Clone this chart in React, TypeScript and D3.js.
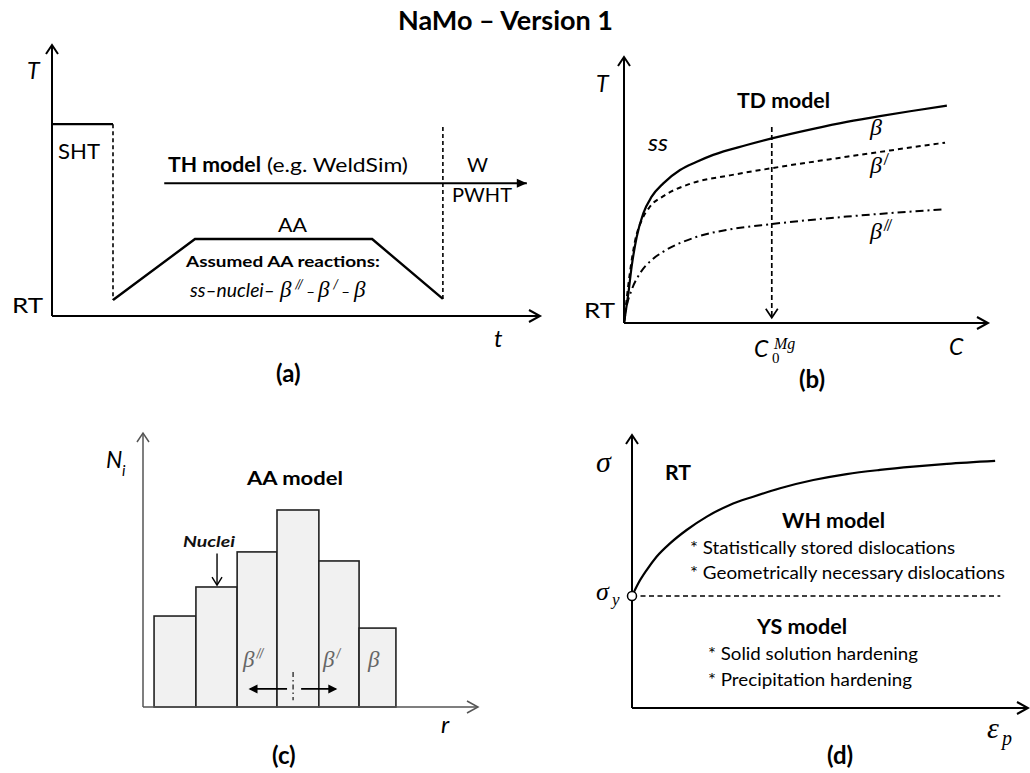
import React from 'react';
import * as d3 from 'd3';

// ---------- DATA ----------
// Panel (a): thermal history T(t), schematic units 0..100
const shtSegment = [{ t: 0, T: 70.8 }, { t: 12.5, T: 70.8 }];
const quenchSegment = [{ t: 12.5, T: 70.8 }, { t: 12.5, T: 5.9 }];
const agingSegment = [
  { t: 12.5, T: 5.9 },
  { t: 29.3, T: 28.4 },
  { t: 65.6, T: 28.4 },
  { t: 80.1, T: 6.3 },
];
const weldSegment = [{ t: 80.1, T: 6.3 }, { t: 80.1, T: 70.5 }];
const thArrow = [{ t: 23, T: 49 }, { t: 97.3, T: 49 }];

// Panel (b): solvus curves T(C)
const solvusBeta = [
  [0, 0], [1.2, 11.2], [2.1, 21.2], [3.5, 32.4], [5.3, 41.2], [7.6, 47.5],
  [10.8, 52.5], [15.4, 57.5], [20, 60.6], [24.5, 63.2], [33.7, 66.9],
  [40.6, 69.4], [52, 73], [61.2, 75.6], [70.3, 77.8], [79.5, 79.8], [88.7, 81.7],
];
const solvusBetaP = [
  [0, 0], [0.7, 8.6], [1.6, 18.7], [3.0, 30.6], [4.9, 38.7], [7.1, 43.7],
  [10.8, 47.7], [18.1, 52.3], [29.1, 55.5], [40.6, 58.2], [61.2, 62.5], [88.2, 67.8],
];
const solvusBetaPP = [
  [0, 0], [0.7, 6.1], [2.1, 12.4], [4.4, 18.7], [7.6, 23.7], [10.8, 26.8],
  [20, 32.4], [29.1, 35.2], [40.6, 37.2], [61.2, 40], [87.7, 42.7],
];
const c0Mg = 40.6;
const c0ArrowTop = 73.7;

// Panel (c): particle size distribution
const binEdges = [3.3, 15.8, 28.1, 40.0, 52.5, 64.5, 75.5];
const binCounts = [33.2, 43.8, 56.6, 71.9, 53.3, 28.8];

// Panel (d): flow curve sigma(eps_p)
const flowCurve = [
  [0, 41], [1.6, 45.7], [3.7, 50.5], [6.2, 55.4], [9.6, 60.3], [13.8, 65.2],
  [18.9, 70.1], [24.7, 74.4], [30.6, 77.4], [37.4, 80.5], [45.8, 83.5],
  [54.2, 85.7], [62.6, 87.2], [71, 88.4], [79.5, 89.4], [91.7, 90.5],
];
const sigmaY = 41;
const yieldLineEnd = 93;

// ---------- STYLE ----------
const SANS = "Lato, 'Open Sans', sans-serif";
const SERIF = "'Liberation Serif', 'DejaVu Serif', serif";

const xA = d3.scaleLinear([0, 100], [52, 540]);
const yA = d3.scaleLinear([0, 100], [316, 45]);
const xB = d3.scaleLinear([0, 100], [624, 988]);
const yB = d3.scaleLinear([0, 100], [323, 57]);
const xC = d3.scaleLinear([0, 100], [143, 478]);
const yC = d3.scaleLinear([0, 100], [707, 433]);
const xD = d3.scaleLinear([0, 100], [632, 1028]);
const yD = d3.scaleLinear([0, 100], [708, 435]);

function head(x: number, y: number, dx: number, dy: number, len = 10, half = 6, closed = false) {
  const n = Math.hypot(dx, dy);
  const ux = dx / n, uy = dy / n;
  const bx = x - ux * len, by = y - uy * len;
  const px = -uy * half, py = ux * half;
  return `M${bx + px},${by + py}L${x},${y}L${bx - px},${by - py}${closed ? 'Z' : ''}`;
}

const lineA = d3.line<{ t: number; T: number }>().x(d => xA(d.t)).y(d => yA(d.T));
const lineB = d3.line<number[]>().x(d => xB(d[0])).y(d => yB(d[1])).curve(d3.curveMonotoneX);
const lineD = d3.line<number[]>().x(d => xD(d[0])).y(d => yD(d[1])).curve(d3.curveMonotoneX);

const Beta = ({ x, y, primes, size = 24, fill = '#000' }: any) => (
  <text x={x} y={y} fontFamily={SERIF} fontStyle="italic" fontSize={size} fill={fill}>
    β
    {primes ? (
      <tspan fontFamily={SANS} fontStyle="normal" fontSize={size * 0.6} dy={-size * 0.38} dx={1}>
        {primes}
      </tspan>
    ) : null}
  </text>
);

export default function App() {
  const ax = { stroke: '#000', strokeWidth: 2, fill: 'none' };
  return (
    <svg width={1030} height={773} style={{ position: 'absolute', left: 0, top: 0, background: '#fff' }}>
      <rect width={1030} height={773} fill="#fff" />
      <text x={398} y={30} fontFamily={SANS} fontWeight="bold" fontSize={27} textLength={215} lengthAdjust="spacingAndGlyphs">NaMo – Version 1</text>

      {/* ---------- Panel (a) ---------- */}
      <g>
        <line x1={xA(0)} y1={yA(0)} x2={xA(0)} y2={yA(100)} {...ax} />
        <path d={head(xA(0), yA(100), 0, -1, 9, 6)} {...ax} />
        <line x1={xA(0)} y1={yA(0)} x2={xA(100)} y2={yA(0)} {...ax} />
        <path d={head(xA(100), yA(0), 1, 0, 11, 6)} {...ax} />
        <path d={lineA(shtSegment)!} stroke="#000" strokeWidth={2.4} fill="none" />
        <path d={lineA(quenchSegment)!} stroke="#000" strokeWidth={1.6} strokeDasharray="4,3" fill="none" />
        <path d={lineA(agingSegment)!} stroke="#000" strokeWidth={2.4} fill="none" strokeLinejoin="miter" />
        <path d={lineA(weldSegment)!} stroke="#000" strokeWidth={1.6} strokeDasharray="4,3" fill="none" />
        <path d={lineA(thArrow)!} stroke="#000" strokeWidth={2} fill="none" />
        <path d={head(xA(thArrow[1].t), yA(thArrow[1].T), 1, 0, 10, 4.5, true)} fill="#000" />

        <text x={27} y={79} fontFamily={SANS} fontStyle="italic" fontSize={23}>T</text>
        <text x={12} y={313} fontFamily={SANS} fontSize={22} textLength={31} lengthAdjust="spacingAndGlyphs">RT</text>
        <text x={58} y={159} fontFamily={SANS} fontSize={22} textLength={42} lengthAdjust="spacingAndGlyphs">SHT</text>
        <text x={168} y={172} fontFamily={SANS} fontWeight="bold" fontSize={20} textLength={93} lengthAdjust="spacingAndGlyphs">TH model</text>
        <text x={267} y={172} fontFamily={SANS} fontSize={20} textLength={141} lengthAdjust="spacingAndGlyphs">(e.g. WeldSim)</text>
        <text x={467} y={172} fontFamily={SANS} fontSize={20} textLength={21} lengthAdjust="spacingAndGlyphs">W</text>
        <text x={452} y={202} fontFamily={SANS} fontSize={19} textLength={60} lengthAdjust="spacingAndGlyphs">PWHT</text>
        <text x={278} y={232} fontFamily={SANS} fontSize={20} textLength={29} lengthAdjust="spacingAndGlyphs">AA</text>
        <text x={186} y={267} fontFamily={SANS} fontWeight="bold" fontSize={16} textLength={194} lengthAdjust="spacingAndGlyphs">Assumed AA reactions:</text>
        <g fontStyle="italic">
          <text x={190} y={297} fontFamily={SANS} fontSize={20} textLength={85} lengthAdjust="spacingAndGlyphs">ss–nuclei–</text>
          <text x={280} y={297} fontFamily={SERIF} fontSize={23}>β</text>
          <text x={295} y={289} fontFamily={SANS} fontSize={13}>//</text>
          <text x={306} y={297} fontFamily={SANS} fontSize={16}>–</text>
          <text x={318} y={297} fontFamily={SERIF} fontSize={23}>β</text>
          <text x={333} y={289} fontFamily={SANS} fontSize={13}>/</text>
          <text x={341} y={297} fontFamily={SANS} fontSize={16}>–</text>
          <text x={354} y={297} fontFamily={SERIF} fontSize={23}>β</text>
        </g>
        <text x={494} y={347} fontFamily={SANS} fontStyle="italic" fontSize={24}>t</text>
        <text x={276} y={382} fontFamily={SANS} fontWeight="bold" fontSize={24}>(a)</text>
      </g>

      {/* ---------- Panel (b) ---------- */}
      <g>
        <line x1={xB(0)} y1={yB(0)} x2={xB(0)} y2={yB(100)} {...ax} />
        <path d={head(xB(0), yB(100), 0, -1, 9, 6)} {...ax} />
        <line x1={xB(0)} y1={yB(0)} x2={xB(100)} y2={yB(0)} {...ax} />
        <path d={head(xB(100), yB(0), 1, 0, 11, 6)} {...ax} />
        <path d={lineB(solvusBeta as any)!} stroke="#000" strokeWidth={2.2} fill="none" />
        <path d={lineB(solvusBetaP as any)!} stroke="#000" strokeWidth={2} strokeDasharray="5,4" fill="none" />
        <path d={lineB(solvusBetaPP as any)!} stroke="#000" strokeWidth={2} strokeDasharray="8,4,2,4" fill="none" />
        <line x1={xB(c0Mg)} y1={yB(c0ArrowTop)} x2={xB(c0Mg)} y2={yB(2)} stroke="#000" strokeWidth={1.7} strokeDasharray="5,3" />
        <path d={head(xB(c0Mg), yB(2), 0, 1, 9, 6)} stroke="#000" strokeWidth={1.7} fill="none" />

        <text x={596} y={92} fontFamily={SANS} fontStyle="italic" fontSize={23}>T</text>
        <text x={584} y={318} fontFamily={SANS} fontSize={22} textLength={31} lengthAdjust="spacingAndGlyphs">RT</text>
        <text x={737} y={108} fontFamily={SANS} fontWeight="bold" fontSize={21} textLength={93} lengthAdjust="spacingAndGlyphs">TD model</text>
        <text x={648} y={151} fontFamily={SANS} fontStyle="italic" fontSize={23} textLength={20} lengthAdjust="spacingAndGlyphs">ss</text>
        <Beta x={870} y={135} />
        <Beta x={870} y={173} primes="/" />
        <Beta x={870} y={239} primes="//" />
        <text x={754} y={357} fontFamily={SANS} fontStyle="italic" fontSize={23}>C</text>
        <text x={772} y={363} fontFamily={SERIF} fontSize={15}>0</text>
        <text x={774} y={349} fontFamily={SERIF} fontStyle="italic" fontSize={16}>Mg</text>
        <text x={949} y={355} fontFamily={SANS} fontStyle="italic" fontSize={23}>C</text>
        <text x={799} y={388} fontFamily={SANS} fontWeight="bold" fontSize={24}>(b)</text>
      </g>

      {/* ---------- Panel (c) ---------- */}
      <g>
        {binCounts.map((c, i) => (
          <rect key={i} x={xC(binEdges[i])} y={yC(c)} width={xC(binEdges[i + 1]) - xC(binEdges[i])} height={yC(0) - yC(c)}
            fill="#f1f1f1" stroke="#222" strokeWidth={1.6} />
        ))}
        <line x1={xC(0)} y1={yC(0)} x2={xC(0)} y2={yC(100)} stroke="#555" strokeWidth={1.5} />
        <path d={head(xC(0), yC(100), 0, -1, 9, 6)} stroke="#555" strokeWidth={1.5} fill="none" />
        <line x1={xC(0)} y1={yC(0)} x2={xC(100)} y2={yC(0)} stroke="#555" strokeWidth={1.5} />
        <path d={head(xC(100), yC(0), 1, 0, 11, 6)} stroke="#555" strokeWidth={1.5} fill="none" />

        {/* growth/dissolution arrows at the central bin */}
        <line x1={xC(44.8)} y1={yC(12.8)} x2={xC(44.8)} y2={yC(2.5)} stroke="#222" strokeWidth={1.3} strokeDasharray="5,3,1.5,3" />
        <line x1={xC(43)} y1={yC(6.6)} x2={xC(32)} y2={yC(6.6)} stroke="#000" strokeWidth={1.6} />
        <path d={head(xC(31.5), yC(6.6), -1, 0, 9, 4.5, true)} fill="#000" />
        <line x1={xC(47.2)} y1={yC(6.6)} x2={xC(57.5)} y2={yC(6.6)} stroke="#000" strokeWidth={1.6} />
        <path d={head(xC(58), yC(6.6), 1, 0, 9, 4.5, true)} fill="#000" />

        {/* nuclei arrow to the second bin */}
        <line x1={xC(22.1)} y1={yC(56)} x2={xC(22.1)} y2={yC(44.5)} stroke="#000" strokeWidth={1.4} />
        <path d={head(xC(22.1), yC(44.5), 0, 1, 8, 5)} stroke="#000" strokeWidth={1.4} fill="none" />

        <text x={106} y={468} fontFamily={SANS} fontStyle="italic" fontSize={23}>N</text>
        <text x={122} y={476} fontFamily={SANS} fontStyle="italic" fontSize={15}>i</text>
        <text x={247} y={485} fontFamily={SANS} fontWeight="bold" fontSize={19} textLength={96} lengthAdjust="spacingAndGlyphs">AA model</text>
        <text x={183} y={547} fontFamily={SANS} fontStyle="italic" fontWeight="bold" fontSize={15} textLength={52} lengthAdjust="spacingAndGlyphs" fill="#111">Nuclei</text>
        <Beta x={243} y={667} primes="//" fill="#666" size={23} />
        <Beta x={323} y={667} primes="/" fill="#666" size={23} />
        <Beta x={368} y={667} fill="#666" size={23} />
        <text x={441} y={733} fontFamily={SANS} fontStyle="italic" fontSize={24}>r</text>
        <text x={272} y={764} fontFamily={SANS} fontWeight="bold" fontSize={24}>(c)</text>
      </g>

      {/* ---------- Panel (d) ---------- */}
      <g>
        <line x1={xD(0)} y1={yD(0)} x2={xD(0)} y2={yD(100)} {...ax} />
        <path d={head(xD(0), yD(100), 0, -1, 9, 6)} {...ax} />
        <line x1={xD(0)} y1={yD(0)} x2={xD(100)} y2={yD(0)} {...ax} />
        <path d={head(xD(100), yD(0), 1, 0, 11, 6)} {...ax} />
        <line x1={xD(0)} y1={yD(sigmaY)} x2={xD(yieldLineEnd)} y2={yD(sigmaY)} stroke="#000" strokeWidth={1.5} strokeDasharray="5,3.5" />
        <path d={lineD(flowCurve as any)!} stroke="#000" strokeWidth={2.2} fill="none" />
        <circle cx={xD(0)} cy={yD(sigmaY)} r={4.5} fill="#fff" stroke="#000" strokeWidth={1.5} />

        <text x={596} y={472} fontFamily={SERIF} fontStyle="italic" fontSize={30}>σ</text>
        <text x={596} y={600} fontFamily={SERIF} fontStyle="italic" fontSize={26}>σ</text>
        <text x={612} y={605} fontFamily={SERIF} fontStyle="italic" fontSize={17}>y</text>
        <text x={665} y={480} fontFamily={SANS} fontWeight="bold" fontSize={21} textLength={26} lengthAdjust="spacingAndGlyphs">RT</text>
        <text x={782} y={528} fontFamily={SANS} fontWeight="bold" fontSize={20} textLength={103} lengthAdjust="spacingAndGlyphs">WH model</text>
        <text x={690} y={554} fontFamily={SANS} fontSize={18} textLength={265} lengthAdjust="spacingAndGlyphs">* Statistically stored dislocations</text>
        <text x={690} y={579} fontFamily={SANS} fontSize={18} textLength={315} lengthAdjust="spacingAndGlyphs">* Geometrically necessary dislocations</text>
        <text x={757} y={634} fontFamily={SANS} fontWeight="bold" fontSize={20} textLength={90} lengthAdjust="spacingAndGlyphs">YS model</text>
        <text x={708} y={660} fontFamily={SANS} fontSize={18} textLength={210} lengthAdjust="spacingAndGlyphs">* Solid solution hardening</text>
        <text x={708} y={686} fontFamily={SANS} fontSize={18} textLength={204} lengthAdjust="spacingAndGlyphs">* Precipitation hardening</text>
        <text x={987} y={738} fontFamily={SERIF} fontStyle="italic" fontSize={30}>ε</text>
        <text x={1002} y={745} fontFamily={SERIF} fontStyle="italic" fontSize={20}>p</text>
        <text x={827} y={764} fontFamily={SANS} fontWeight="bold" fontSize={24}>(d)</text>
      </g>
    </svg>
  );
}
